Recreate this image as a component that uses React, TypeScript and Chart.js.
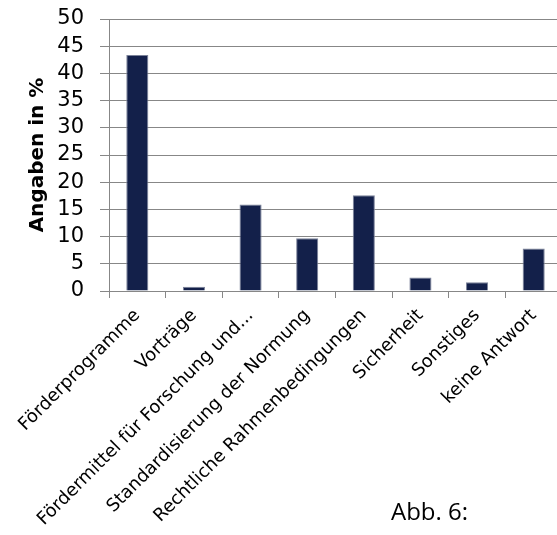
import React, { useEffect, useRef } from "react";
import { Chart, registerables } from "chart.js";

Chart.register(...registerables);

const categories = [
  "Förderprogramme",
  "Vorträge",
  "Fördermittel für Forschung und...",
  "Standardisierung der Normung",
  "Rechtliche Rahmenbedingungen",
  "Sicherheit",
  "Sonstiges",
  "keine Antwort",
];
const shares = [43.4, 0.8, 15.9, 9.7, 17.6, 2.5, 1.6, 7.8];
const yTicks = [0, 5, 10, 15, 20, 25, 30, 35, 40, 45, 50];
const yTitle = "Angaben in %";
const caption = "Abb. 6:";

const CANVAS_W = 580;
const CANVAS_H = 535;

export default function App() {
  const canvasRef = useRef<HTMLCanvasElement | null>(null);

  useEffect(() => {
    const canvas = canvasRef.current;
    if (!canvas) return;
    const chart = new Chart(canvas, {
      type: "bar",
      data: {
        labels: categories,
        datasets: [
          {
            data: shares,
            backgroundColor: "#13204a",
            borderColor: "#7b8299",
            borderWidth: 1,
            barPercentage: 0.39,
            categoryPercentage: 1,
          },
        ],
      },
      options: {
        animation: false,
        responsive: false,
        devicePixelRatio: 1,
        layout: { padding: { top: 19, right: 18, left: 0, bottom: 0 } },
        plugins: {
          legend: { display: false },
          tooltip: { enabled: false },
        },
        scales: {
          x: {
            afterFit: (scale: any) => {
              scale.height = CANVAS_H - 291;
              scale.paddingLeft = 0;
              scale.paddingRight = 0;
            },
            grid: {
              offset: true,
              drawOnChartArea: false,
              drawTicks: true,
              tickLength: 7,
              color: "#878787",
              lineWidth: 1,
            },
            border: { display: true, color: "#878787", width: 1 },
            ticks: {
              minRotation: 45,
              maxRotation: 45,
              autoSkip: false,
              padding: 7,
              color: "#000",
              font: { family: "DejaVu Sans", size: 18 },
            },
          },
          y: {
            min: 0,
            max: 50,
            afterFit: (scale: any) => {
              scale.width = 109;
              scale.paddingTop = 0;
              scale.paddingBottom = 0;
            },
            afterBuildTicks: (scale: any) => {
              scale.ticks = yTicks.map((v) => ({ value: v }));
            },
            grid: {
              color: "#878787",
              lineWidth: 1,
              tickLength: 9,
            },
            border: { display: true, color: "#878787", width: 1 },
            ticks: {
              autoSkip: false,
              padding: 16,
              color: "#000",
              font: { family: "DejaVu Sans", size: 21 },
            },
            title: {
              display: true,
              text: yTitle,
              color: "#000",
              padding: { top: 26, bottom: 0 },
              font: { family: "DejaVu Sans", size: 20, weight: "bold" },
            },
          },
        },
      },
    });
    return () => chart.destroy();
  }, []);

  return (
    <div
      style={{
        position: "absolute",
        left: 0,
        top: 0,
        width: 557,
        height: 535,
        overflow: "hidden",
        background: "#fff",
      }}
    >
      <canvas
        ref={canvasRef}
        width={CANVAS_W}
        height={CANVAS_H}
        style={{ display: "block", width: CANVAS_W, height: CANVAS_H }}
      />
      <div
        style={{
          position: "absolute",
          left: 391,
          top: 495,
          fontFamily: "'Open Sans', sans-serif",
          fontSize: 24,
          lineHeight: "32px",
          color: "#000",
          whiteSpace: "nowrap",
        }}
      >
        {caption}
      </div>
    </div>
  );
}
